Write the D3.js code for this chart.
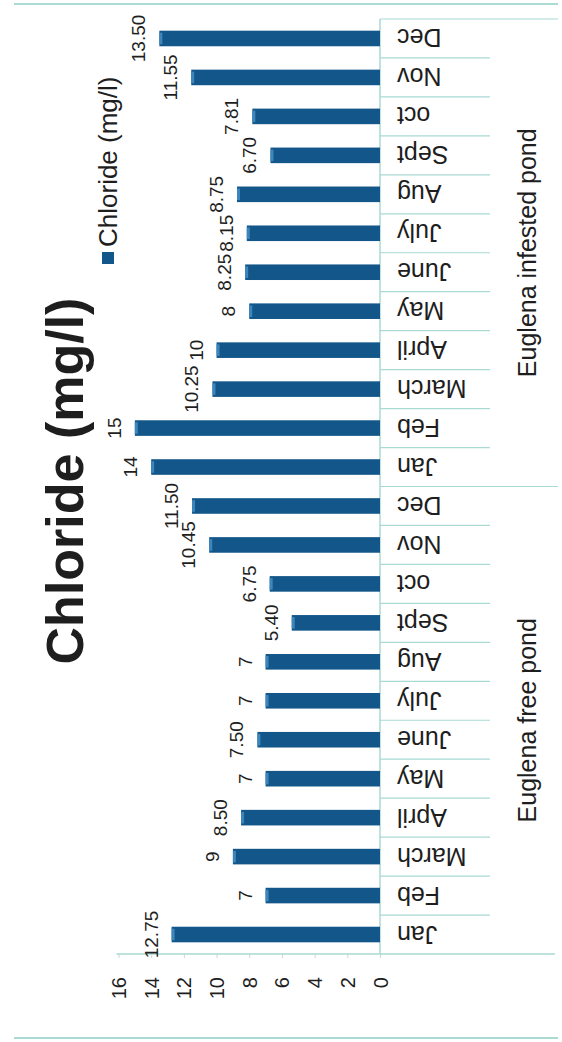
<!DOCTYPE html>
<html>
<head>
<meta charset="utf-8">
<script src="https://cdn.jsdelivr.net/npm/d3@7"></script>
<style>
  body { margin: 0; background: #fff; }
  svg text { font-family: "Liberation Sans", Arial, sans-serif; fill: #1e1e1e; }
</style>
</head>
<body>
<div id="chart"></div>
<script>
// data
const months = ["Jan", "Feb", "March", "April", "May", "June", "July", "Aug", "Sept", "oct", "Nov", "Dec"]
const groups = ["Euglena free pond", "Euglena infested pond"]
const freeValues = [12.75, 7, 9, 8.5, 7, 7.5, 7, 7, 5.4, 6.75, 10.45, 11.5]
const freeLabels = ["12.75", "7", "9", "8.50", "7", "7.50", "7", "7", "5.40", "6.75", "10.45", "11.50"]
const infestedValues = [14, 15, 10.25, 10, 8, 8.25, 8.15, 8.75, 6.7, 7.81, 11.55, 13.5]
const infestedLabels = ["14", "15", "10.25", "10", "8", "8.25", "8.15", "8.75", "6.70", "7.81", "11.55", "13.50"]
const valueTicks = [0, 2, 4, 6, 8, 10, 12, 14, 16]
const seriesName = "Chloride (mg/l)"
const title = "Chloride (mg/l)"

// rows built from the arrays above
const rows = []
freeValues.forEach((v, i) => rows.push({ idx: i, group: 0, month: months[i], value: v, label: freeLabels[i] }))
infestedValues.forEach((v, i) => rows.push({ idx: 12 + i, group: 1, month: months[i], value: v, label: infestedLabels[i] }))

const width = 562, height = 1042
const lineColor = "#a9dad3"
const barColor = "#12568a"

let svg = d3.select("#chart")
    .append("svg")
    .attr("width", width)
    .attr("height", height)

// outer frame lines
svg.append("line")
    .attr("x1", 14).attr("x2", 558).attr("y1", 4).attr("y2", 4)
    .style("stroke", lineColor).style("stroke-width", 2)
svg.append("line")
    .attr("x1", 14).attr("x2", 558).attr("y1", 1038).attr("y2", 1038)
    .style("stroke", lineColor).style("stroke-width", 2)

// scales (chart is drawn rotated: values run right to left, categories bottom to top)
const xScale = d3.scaleLinear()
    .domain([0, 16])
    .range([380, 118.5])

const yScale = d3.scaleBand()
    .domain(rows.map(d => d.idx))
    .range([954, 19])
    .paddingInner(0.6)
    .paddingOuter(0.3)

const step = yScale.step()
const bw = yScale.bandwidth()
const bandTop = i => yScale(i) + bw / 2 - step / 2
const bandBottom = i => yScale(i) + bw / 2 + step / 2

// value axis
const xAxis = d3.axisBottom(xScale).tickValues(valueTicks).tickSize(4).tickSizeOuter(0)
let gx = svg.append("g")
    .attr("transform", "translate(0,954)")
    .call(xAxis)
gx.select(".domain").remove()
gx.selectAll(".tick line").style("stroke", "#c9d9d6")
gx.selectAll(".tick text")
    .attr("y", 0)
    .attr("dy", "0.35em")
    .attr("text-anchor", "end")
    .attr("transform", "translate(0,23) rotate(-90)")
    .style("font-size", "20px")
    .style("fill", "#1e1e1e")

svg.append("line")
    .attr("x1", xScale(16) - 2).attr("x2", 555).attr("y1", 954).attr("y2", 954)
    .style("stroke", lineColor).style("stroke-width", 1.5)

// category axis line
svg.append("line")
    .attr("x1", xScale(0)).attr("x2", xScale(0))
    .attr("y1", bandTop(23)).attr("y2", 954)
    .style("stroke", lineColor).style("stroke-width", 1.5)

// month separators
svg.selectAll(".sep")
    .data(rows)
    .enter().append("line")
    .attr("class", "sep")
    .attr("x1", xScale(0))
    .attr("x2", d => (d.idx === 11 || d.idx === 23) ? 558 : 490)
    .attr("y1", d => bandTop(d.idx))
    .attr("y2", d => bandTop(d.idx))
    .style("stroke", lineColor).style("stroke-width", 1.2)

// bars
svg.selectAll(".bar")
    .data(rows)
    .enter().append("rect")
    .attr("class", "bar")
    .attr("x", d => xScale(d.value))
    .attr("y", d => yScale(d.idx))
    .attr("width", d => xScale(0) - xScale(d.value))
    .attr("height", bw)
    .style("fill", barColor)

// light tips at bar ends
svg.selectAll(".tip")
    .data(rows)
    .enter().append("rect")
    .attr("class", "tip")
    .attr("x", d => xScale(d.value))
    .attr("y", d => yScale(d.idx) + 2)
    .attr("width", 3)
    .attr("height", bw - 4)
    .style("fill", "#3d86bb")

// value labels
svg.selectAll(".val")
    .data(rows)
    .enter().append("text")
    .attr("class", "val")
    .attr("transform", d => `translate(${xScale(d.value) - 14},${yScale(d.idx) + bw / 2}) rotate(-90)`)
    .attr("text-anchor", "middle")
    .style("font-size", "19px")
    .text(d => d.label)

// month labels (upside down)
svg.selectAll(".month")
    .data(rows)
    .enter().append("text")
    .attr("class", "month")
    .attr("transform", d => `translate(397,${yScale(d.idx) + bw / 2}) rotate(180)`)
    .attr("text-anchor", "end")
    .attr("dy", "0.36em")
    .style("font-size", "25px")
    .text(d => d.month)

// group labels
svg.selectAll(".group")
    .data(groups)
    .enter().append("text")
    .attr("class", "group")
    .attr("transform", (d, i) => {
        let cy = (bandTop(i * 12 + 11) + bandBottom(i * 12)) / 2
        return `translate(536,${cy}) rotate(-90)`
    })
    .attr("text-anchor", "middle")
    .style("font-size", "25px")
    .text(d => d)

// legend
svg.append("rect")
    .attr("x", 102).attr("y", 252)
    .attr("width", 12).attr("height", 12)
    .style("fill", barColor)
svg.append("text")
    .attr("transform", "translate(117,247) rotate(-90)")
    .attr("text-anchor", "start")
    .style("font-size", "26px")
    .text(seriesName)

// title
svg.append("text")
    .attr("transform", "translate(83,481) rotate(-90)")
    .attr("text-anchor", "middle")
    .style("font-size", "52px")
    .style("font-weight", "bold")
    .text(title)
</script>
</body>
</html>
